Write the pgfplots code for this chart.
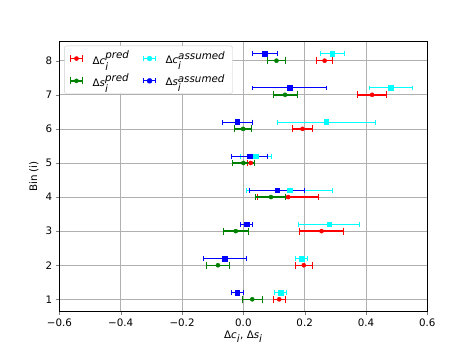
\documentclass[border=0pt]{standalone}
\usepackage{fontspec}
\setmainfont{DejaVu Sans}
\usepackage{pgfplots}
\pgfplotsset{compat=1.18}
\definecolor{mplred}{RGB}{255,0,0}
\definecolor{mplgreen}{RGB}{0,128,0}
\definecolor{mplcyan}{RGB}{0,255,255}
\definecolor{mplblue}{RGB}{0,0,255}
\definecolor{gridgray}{RGB}{176,176,176}

% columns: x value, bin, half error
\pgfplotstableread{
x y ex
0.117 1 0.020
0.197 2 0.027
0.255 3 0.072
0.146 4 0.100
0.024 5 0.012
0.193 6 0.033
0.420 7 0.048
0.265 8 0.027
}\cpred
\pgfplotstableread{
x y ex
0.029 1 0.033
-0.083 2 0.037
-0.025 3 0.041
0.090 4 0.049
0.000 5 0.035
-0.001 6 0.029
0.136 7 0.039
0.108 8 0.028
}\spred
\pgfplotstableread{
x y ex
0.121 1.2 0.020
0.190 2.2 0.020
0.280 3.2 0.100
0.150 4.2 0.140
0.040 5.2 0.050
0.270 6.2 0.160
0.480 7.2 0.070
0.290 8.2 0.040
}\cass
\pgfplotstableread{
x y ex
-0.020 1.2 0.020
-0.060 2.2 0.070
0.010 3.2 0.020
0.110 4.2 0.090
0.020 5.2 0.060
-0.020 6.2 0.050
0.150 7.2 0.120
0.070 8.2 0.040
}\sass

\newcommand{\legbar}[4]{% colour, mark, line width, cap
  \draw[#1,line width=#3] (0cm,0cm) -- (0.42cm,0cm);
  \draw[#1,line width=0.9pt] (0cm,-#4) -- (0cm,#4) (0.42cm,-#4) -- (0.42cm,#4);
  \fill[#1] (0.21cm,0cm) #2;
}

\begin{document}
\begin{tikzpicture}
\useasboundingbox (-57.7pt,-37.2pt) rectangle (403.3pt,302.4pt);
\begin{axis}[
    at={(0,0)}, anchor=south west,
    scale only axis, width=357pt, height=262pt,
    xmin=-0.6, xmax=0.6, ymin=0.64, ymax=8.56,
    xtick={-0.6,-0.4,-0.2,0,0.2,0.4,0.6},
    xticklabels={−0.6,−0.4,−0.2,0.0,0.2,0.4,0.6},
    ytick={1,...,8},
    /pgf/number format/assume math mode=true,
    tick align=outside, tick pos=left,
    major tick length=3.5pt,
    grid=major, grid style={gridgray, line width=0.6pt},
    axis line style={line width=0.6pt},
    ticklabel style={font=\fontsize{10}{12}\selectfont},
    xlabel={Δ\textit{c}$_{\textit{i}}$, Δ\textit{s}$_{\textit{i}}$},
    ylabel={Bin (i)},
    label style={font=\fontsize{10}{12}\selectfont},
    xlabel style={yshift=3pt},
    legend columns=2,
    legend style={at={(0.013,0.985)}, anchor=north west, draw=gray!40,
        rounded corners=2pt, font=\fontsize{10}{12}\selectfont,
        inner xsep=5pt, inner ysep=3pt, row sep=3pt,
        /tikz/every odd column/.append style={column sep=7pt},
        /tikz/every even column/.append style={column sep=11pt}},
    legend cell align=left,
]
\addplot[forget plot, only marks, mplred, mark=*, mark size=2pt,
    error bars/.cd, x dir=both, x explicit,
    error bar style={line width=1.4pt},
    error mark options={mplred, line width=1pt, mark size=3.3pt, rotate=90}]
    table[x=x, y=y, x error=ex] {\cpred};
\addplot[forget plot, only marks, mplgreen, mark=*, mark size=2pt,
    error bars/.cd, x dir=both, x explicit,
    error bar style={line width=1.4pt},
    error mark options={mplgreen, line width=1pt, mark size=3.3pt, rotate=90}]
    table[x=x, y=y, x error=ex] {\spred};
\addplot[forget plot, only marks, mplcyan, mark=square*, mark size=2.3pt,
    error bars/.cd, x dir=both, x explicit,
    error bar style={line width=1pt},
    error mark options={mplcyan, line width=0.8pt, mark size=2.4pt, rotate=90}]
    table[x=x, y=y, x error=ex] {\cass};
\addplot[forget plot, only marks, mplblue, mark=square*, mark size=2.3pt,
    error bars/.cd, x dir=both, x explicit,
    error bar style={line width=1pt},
    error mark options={mplblue, line width=0.8pt, mark size=2.4pt, rotate=90}]
    table[x=x, y=y, x error=ex] {\sass};

\addlegendimage{legend image code/.code={\legbar{mplred}{circle (2pt)}{1.4pt}{3.3pt}}}
\addlegendentry{Δ\textit{c}$_{\textit{i}}^{\textit{pred}}$}
\addlegendimage{legend image code/.code={\legbar{mplcyan}{+(-2.3pt,-2.3pt) rectangle +(2.3pt,2.3pt)}{1pt}{2.4pt}}}
\addlegendentry{Δ\textit{c}$_{\textit{i}}^{\textit{assumed}}$}
\addlegendimage{legend image code/.code={\legbar{mplgreen}{circle (2pt)}{1.4pt}{3.3pt}}}
\addlegendentry{Δ\textit{s}$_{\textit{i}}^{\textit{pred}}$}
\addlegendimage{legend image code/.code={\legbar{mplblue}{+(-2.3pt,-2.3pt) rectangle +(2.3pt,2.3pt)}{1pt}{2.4pt}}}
\addlegendentry{Δ\textit{s}$_{\textit{i}}^{\textit{assumed}}$}
\end{axis}
\end{tikzpicture}
\end{document}
